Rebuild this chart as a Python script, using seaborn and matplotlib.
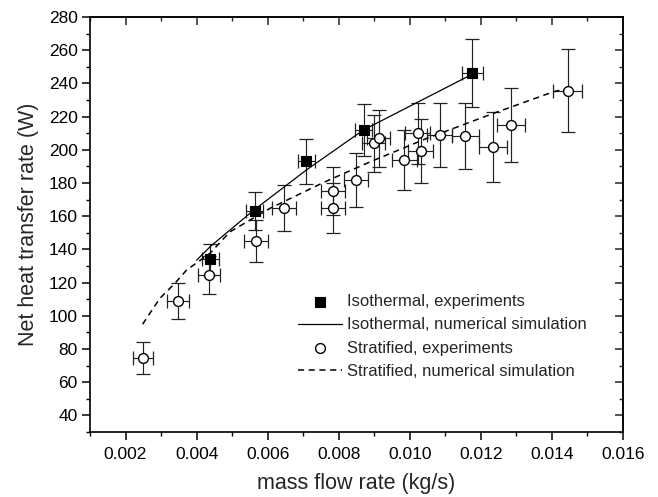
import matplotlib
matplotlib.use("Agg")
import matplotlib.pyplot as plt
import seaborn as sns
import pandas as pd
from matplotlib.ticker import MultipleLocator, FormatStrFormatter

# ---------------- data ----------------
iso_x = [0.00438, 0.00563, 0.00708, 0.00870, 0.01176]
iso_y = [134, 163, 193, 212, 246]
iso_xerr = [0.00024, 0.00024, 0.00024, 0.00025, 0.00029]
iso_yerr = [9.5, 11.5, 13.5, 15.5, 20.5]

strat_x = [0.00248, 0.00349, 0.00436, 0.00567, 0.00645, 0.00785, 0.00785,
           0.00849, 0.00898, 0.00912, 0.00985, 0.01022, 0.01031, 0.01084,
           0.01156, 0.01234, 0.01285, 0.01444]
strat_y = [74.8, 108.9, 124.6, 145.0, 165.1, 175.2, 165.1, 181.8, 203.9,
           206.9, 193.9, 209.9, 199.3, 208.9, 208.3, 201.9, 214.9, 235.6]
strat_xerr = [0.00028, 0.00031, 0.00031, 0.00033, 0.00034, 0.00034, 0.00034,
              0.00033, 0.00033, 0.00033, 0.00035, 0.00035, 0.00035, 0.00036,
              0.00038, 0.00039, 0.00039, 0.00040]
strat_yerr = [9.6, 10.8, 11.4, 12.8, 13.9, 14.6, 15.0, 16.0, 17.0, 17.0,
              18.0, 18.5, 19.0, 19.5, 20.0, 21.0, 22.5, 25.0]

iso_sim_x = [0.0040, 0.0044, 0.0056, 0.0071, 0.0087, 0.0118]
iso_sim_y = [133.5, 142.0, 163.5, 188.0, 212.0, 246.0]

strat_sim_x = [0.00248, 0.00297, 0.00339, 0.00372, 0.00438, 0.00494, 0.00607,
               0.00757, 0.00889, 0.01048, 0.01236, 0.01405, 0.01443]
strat_sim_y = [94.9, 110.6, 119.6, 127.6, 137.7, 150.6, 164.8, 180.3, 192.8,
               206.9, 222.0, 235.0, 237.0]

labels = ["Isothermal, experiments", "Isothermal, numerical simulation",
          "Stratified, experiments", "Stratified, numerical simulation"]

# ---------------- style ----------------
sns.set_theme(style="ticks")
plt.rcParams["font.family"] = ["Liberation Sans", "DejaVu Sans"]

fig = plt.figure(figsize=(6.58, 4.97), dpi=100)
ax = fig.add_axes([90 / 658, 1 - 432 / 497, (623 - 90) / 658, (432 - 17) / 497])

iso_df = pd.DataFrame({"x": iso_x, "y": iso_y})
strat_df = pd.DataFrame({"x": strat_x, "y": strat_y})
iso_sim_df = pd.DataFrame({"x": iso_sim_x, "y": iso_sim_y})
strat_sim_df = pd.DataFrame({"x": strat_sim_x, "y": strat_sim_y})

eb_kw = dict(fmt="none", ecolor="#222222", elinewidth=0.85, capsize=5,
             capthick=0.9, zorder=2)
ax.errorbar(iso_x, iso_y, xerr=iso_xerr, yerr=iso_yerr, **eb_kw)
ax.errorbar(strat_x, strat_y, xerr=strat_xerr, yerr=strat_yerr, **eb_kw)

sns.lineplot(data=iso_sim_df, x="x", y="y", ax=ax, color="black", lw=0.9,
             sort=False, estimator=None, label=labels[1], zorder=3)
sns.lineplot(data=strat_sim_df, x="x", y="y", ax=ax, color="black", lw=1.1,
             sort=False, estimator=None, label=labels[3], zorder=3,
             linestyle=(0, (4, 3)))
sns.scatterplot(data=iso_df, x="x", y="y", ax=ax, marker="s", s=50,
                color="black", edgecolor="black", linewidth=0.8,
                label=labels[0], zorder=4)
sns.scatterplot(data=strat_df, x="x", y="y", ax=ax, marker="o", s=50,
                color="white", edgecolor="black", linewidth=1.0,
                label=labels[2], zorder=4)

ax.set_xlim(0.001, 0.016)
ax.set_ylim(30, 280)
ax.xaxis.set_major_locator(MultipleLocator(0.002))
ax.xaxis.set_minor_locator(MultipleLocator(0.001))
ax.yaxis.set_major_locator(MultipleLocator(20))
ax.yaxis.set_minor_locator(MultipleLocator(10))
ax.set_xticks([0.002, 0.004, 0.006, 0.008, 0.010, 0.012, 0.014, 0.016])
ax.set_yticks(range(40, 281, 20))
ax.xaxis.set_major_formatter(FormatStrFormatter("%.3f"))

for sp in ax.spines.values():
    sp.set_linewidth(1.2)
    sp.set_color("black")
    sp.set_visible(True)

ax.tick_params(axis="both", which="major", direction="out", length=6,
               width=1.1, labelsize=12.5, colors="black", pad=3)
ax.tick_params(axis="x", which="major", pad=5)
ax.tick_params(axis="both", which="minor", direction="out", length=3,
               width=1.0, colors="black")

# mirrored inward ticks on top and right
top = ax.secondary_xaxis("top")
top.xaxis.set_major_locator(MultipleLocator(0.002))
top.xaxis.set_minor_locator(MultipleLocator(0.001))
top.tick_params(which="major", direction="in", length=6, width=1.1,
                labeltop=False)
top.tick_params(which="minor", direction="in", length=3, width=1.0)
top.spines["top"].set_linewidth(1.2)
right = ax.secondary_yaxis("right")
right.yaxis.set_major_locator(MultipleLocator(20))
right.yaxis.set_minor_locator(MultipleLocator(10))
right.tick_params(which="major", direction="in", length=6, width=1.1,
                  labelright=False)
right.tick_params(which="minor", direction="in", length=3, width=1.0)
right.spines["right"].set_linewidth(1.2)

ax.set_xlabel("mass flow rate (kg/s)", fontsize=15.5, labelpad=8)
ax.set_ylabel("Net heat transfer rate (W)", fontsize=15.5, labelpad=7)

handles, labs = ax.get_legend_handles_labels()
order = [labs.index(l) for l in labels]
ax.legend([handles[i] for i in order], [labs[i] for i in order],
          loc="upper left", bbox_to_anchor=(298 / 658, 1 - 294 / 497),
          bbox_transform=fig.transFigure, frameon=False, fontsize=12,
          borderpad=0, borderaxespad=0, handlelength=2.65,
          handletextpad=0.3, labelspacing=0.5)

fig.savefig("out.png", dpi=100)
